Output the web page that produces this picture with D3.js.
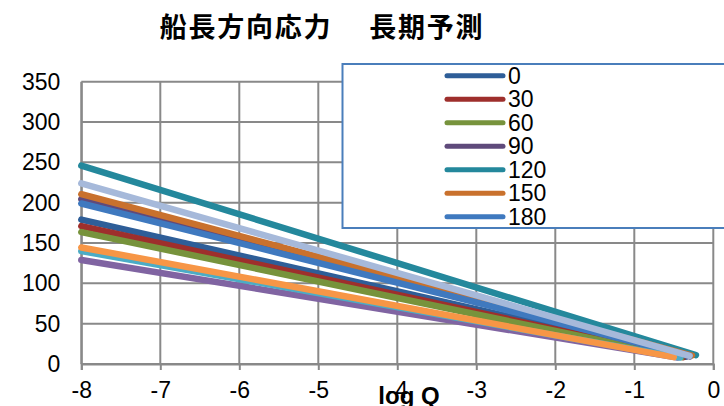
<!DOCTYPE html>
<html>
<head>
<meta charset="utf-8">
<script src="https://cdn.jsdelivr.net/npm/d3@7"></script>
<style>
  html, body { margin: 0; padding: 0; background: #fff; }
  svg { display: block; }
  text { font-family: "Liberation Sans", Arial, sans-serif; fill: #000; }
</style>
</head>
<body>
<svg id="chart" width="724" height="406"></svg>
<script>
// Headings (deg) and stress range lines: start at log Q = -8, end near log Q = 0
const headings   = ["0", "30", "60", "90", "120", "150", "180", "210", "240", "270", "300"];
const startLogQ  = [-8, -8, -8, -8, -8, -8, -8, -8, -8, -8, -8];
const startValue = [179, 171, 163.5, 204.5, 246, 210.5, 199, 129, 140, 144.5, 224];
const endLogQ    = [-0.35, -0.38, -0.4, -0.3, -0.22, -0.27, -0.3, -0.45, -0.42, -0.5, -0.3];
const endValue   = [9, 8.5, 8.5, 9.5, 11, 10.5, 10, 8, 8, 8.5, 10];
const colors     = ["#2E5E98", "#9E2F2C", "#77933C", "#5F4A7B", "#24889C", "#C9712D",
                    "#3F79BF", "#8064A2", "#4BACC6", "#F79646", "#A6B9DA"];

const xTicks = [-8, -7, -6, -5, -4, -3, -2, -1, 0];
const yTicks = [0, 50, 100, 150, 200, 250, 300, 350];

const title = "船長方向応力　 長期予測";
const xTitle = "log Q";

const svg = d3.select("#chart");
const plot = { left: 81.3, right: 713.3, top: 81.7, bottom: 364 };

const x = d3.scaleLinear().domain([-8, 0]).range([plot.left, plot.right]);
const y = d3.scaleLinear().domain([0, 350]).range([plot.bottom, plot.top]);

const gridColor = "#898989";
const labelSize = 23;

// gridlines
const grid = svg.append("g");
grid.selectAll("line.h").data(yTicks).join("line")
  .attr("x1", plot.left).attr("x2", plot.right)
  .attr("y1", d => y(d)).attr("y2", d => y(d))
  .attr("stroke", gridColor).attr("stroke-width", 2);
grid.selectAll("line.v").data(xTicks).join("line")
  .attr("y1", plot.top).attr("y2", plot.bottom)
  .attr("x1", d => x(d)).attr("x2", d => x(d))
  .attr("stroke", gridColor).attr("stroke-width", 2);

// x axis
const xAxis = svg.append("g")
  .attr("transform", `translate(0,${plot.bottom})`)
  .call(d3.axisBottom(x).tickValues(xTicks).tickSize(6).tickPadding(12));
xAxis.select(".domain").attr("stroke", gridColor).attr("stroke-width", 2);
xAxis.selectAll(".tick line").attr("stroke", gridColor).attr("stroke-width", 2);
xAxis.selectAll(".tick text").attr("font-size", labelSize).attr("font-family", "Liberation Sans, Arial, sans-serif")
  .text(d => d < 0 ? "-" + Math.abs(d) : d);

// y axis
const yAxis = svg.append("g")
  .attr("transform", `translate(${plot.left},0)`)
  .call(d3.axisLeft(y).tickValues(yTicks).tickSize(0).tickPadding(21));
yAxis.select(".domain").attr("stroke", gridColor).attr("stroke-width", 2);
yAxis.selectAll(".tick text").attr("font-size", labelSize).attr("font-family", "Liberation Sans, Arial, sans-serif");

// series lines
const seriesData = headings.map((h, i) => ({
  name: h,
  color: colors[i],
  points: [[startLogQ[i], startValue[i]], [endLogQ[i], endValue[i]]]
}));

const line = d3.line().x(d => x(d[0])).y(d => y(d[1]));
svg.append("g").selectAll("path").data(seriesData).join("path")
  .attr("d", d => line(d.points))
  .attr("fill", "none")
  .attr("stroke", d => d.color)
  .attr("stroke-width", 6.5)
  .attr("stroke-linecap", "round")
  .attr("stroke-linejoin", "round");

// title
svg.append("text")
  .attr("x", 322).attr("y", 37)
  .attr("text-anchor", "middle")
  .attr("font-size", 27).attr("font-weight", "bold")
  .attr("letter-spacing", 1.8)
  .style("font-family", "'Noto Sans CJK JP', sans-serif")
  .text(title);

// x axis title
svg.append("text")
  .attr("x", 409).attr("y", 404)
  .attr("text-anchor", "middle")
  .attr("font-size", 24).attr("font-weight", "bold")
  .text(xTitle);

// legend box (entries that do not fit are clipped)
const lg = { x: 342.5, y: 64, w: 400, h: 164 };
svg.append("clipPath").attr("id", "legendClip")
  .append("rect").attr("x", lg.x).attr("y", lg.y).attr("width", lg.w).attr("height", lg.h);
const legend = svg.append("g");
legend.append("rect")
  .attr("x", lg.x).attr("y", lg.y).attr("width", lg.w).attr("height", lg.h)
  .attr("fill", "#fff").attr("stroke", "#4A7EBB").attr("stroke-width", 2);
const entries = legend.append("g").attr("clip-path", "url(#legendClip)")
  .selectAll("g").data(seriesData).join("g")
  .attr("transform", (d, i) => `translate(0,${75.7 + i * 23.5})`);
entries.append("line")
  .attr("x1", 447).attr("x2", 503).attr("y1", 0).attr("y2", 0)
  .attr("stroke", d => d.color).attr("stroke-width", 5).attr("stroke-linecap", "round");
entries.append("text")
  .attr("x", 508).attr("y", 0).attr("dy", "0.36em")
  .attr("font-size", labelSize)
  .text(d => d.name);
</script>
</body>
</html>
